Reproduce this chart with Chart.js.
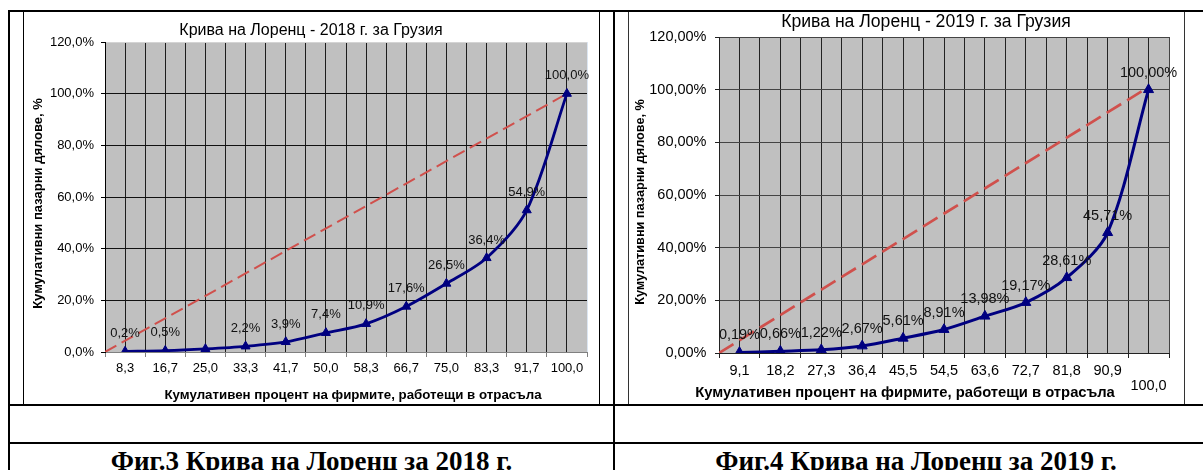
<!DOCTYPE html>
<html lang="bg">
<head>
<meta charset="utf-8">
<title>Крива на Лоренц</title>
<script src="https://cdn.jsdelivr.net/npm/chart.js@4.4.1/dist/chart.umd.min.js"></script>
<style>
  html, body { margin: 0; padding: 0; background: #fff; overflow: hidden; }
  body { position: relative; width: 1203px; height: 470px; }
  .rule { position: absolute; background: #000; }
  .frame { position: absolute; border: 1px solid #000; box-sizing: border-box; }
  canvas { position: absolute; }
  .caption {
    position: absolute; top: 446px; line-height: 27px;
    font: bold 27px "Liberation Serif", "Times New Roman", serif;
    text-align: center; color: #000; white-space: nowrap;
  }
</style>
</head>
<body>
  <div class="frame" style="left:23px; top:10px; width:577px; height:395px;"></div>
  <div class="frame" style="left:628px; top:10px; width:557px; height:395px; border-color:#333;"></div>
  <canvas id="chart2018" width="575" height="392" style="left:24px; top:12px;"></canvas>
  <canvas id="chart2019" width="555" height="392" style="left:629px; top:12px;"></canvas>

  <!-- table rules -->
  <div class="rule" style="left:8px; top:10px; width:1210px; height:2px;"></div>
  <div class="rule" style="left:8px; top:10px; width:2px; height:470px;"></div>
  <div class="rule" style="left:613px; top:10px; width:2px; height:470px;"></div>
  <div class="rule" style="left:8px; top:404px; width:1210px; height:2px;"></div>
  <div class="rule" style="left:8px; top:442px; width:1210px; height:2px;"></div>

  <div class="caption" style="left:10px; width:603px;">Фиг.3 Крива на Лоренц за 2018 г.</div>
  <div class="caption" style="left:615px; width:602px;">Фиг.4 Крива на Лоренц за 2019 г.</div>

<script>
// cumulative % of firms (category labels) and cumulative market shares, %
const cats2018 = ['8,3', '16,7', '25,0', '33,3', '41,7', '50,0', '58,3', '66,7', '75,0', '83,3', '91,7', '100,0'];
const share2018 = [0.2, 0.5, 1.2, 2.2, 3.9, 7.4, 10.9, 17.6, 26.5, 36.4, 54.9, 100.0];
const noLabel2018 = [2]; // the 25,0 point has no value label in the original

const cats2019 = ['9,1', '18,2', '27,3', '36,4', '45,5', '54,5', '63,6', '72,7', '81,8', '90,9', '100,0'];
const share2019 = [0.19, 0.66, 1.22, 2.67, 5.61, 8.91, 13.98, 19.17, 28.61, 45.71, 100.00];

const yTicks = [0, 20, 40, 60, 80, 100, 120];

// line of equality, [category position, share]; category i sits at i + 0.5
const equality2018 = [[0, 0], [11.5, 100]];
const equality2019 = [[0, 0], [10.5, 101]];

const FONT = '"Liberation Sans", Arial, sans-serif';
const NAVY = '#000080';
const DASH_RED = '#D0504C';

const fmt = (v, d) => v.toFixed(d).replace('.', ',') + '%';

// gray plot area like the Excel default
const plotBackground = {
  id: 'plotBackground',
  beforeDraw(chart) {
    const { ctx, chartArea: a } = chart;
    ctx.save();
    ctx.fillStyle = '#C0C0C0';
    ctx.fillRect(a.left, a.top, a.right - a.left, a.bottom - a.top);
    ctx.restore();
  }
};

// value labels above the markers
function pointLabels(font, decimals, offset, skip) {
  return {
    id: 'pointLabels',
    afterDatasetsDraw(chart) {
      const ctx = chart.ctx;
      const meta = chart.getDatasetMeta(0);
      const values = chart.data.datasets[0].data;
      ctx.save();
      ctx.font = font;
      ctx.fillStyle = '#111';
      ctx.textAlign = 'center';
      ctx.textBaseline = 'middle';
      meta.data.forEach((pt, i) => {
        if (skip.includes(i)) return;
        ctx.fillText(fmt(values[i].y, decimals), pt.x, pt.y - offset);
      });
      ctx.restore();
    }
  };
}

// chart title and axis titles (placed where Excel left them)
function frameText(items) {
  return {
    id: 'frameText',
    afterDraw(chart) {
      const ctx = chart.ctx;
      items.forEach(t => {
        ctx.save();
        ctx.font = t.font;
        ctx.fillStyle = '#000';
        ctx.textAlign = 'center';
        ctx.textBaseline = 'middle';
        ctx.translate(t.x, t.y);
        if (t.rotate) ctx.rotate(-Math.PI / 2);
        ctx.fillText(t.text, 0, 0);
        ctx.restore();
      });
    }
  };
}

function lorenzChart(id, s) {
  const n = s.cats.length;
  return new Chart(document.getElementById(id), {
    type: 'line',
    data: {
      datasets: [
        {
          data: s.values.map((v, i) => ({ x: i + 0.5, y: v })),
          borderColor: NAVY,
          backgroundColor: NAVY,
          borderWidth: s.lineWidth,
          tension: 0.3,
          pointStyle: 'triangle',
          pointRadius: s.marker,
          pointBorderWidth: 1,
          pointBorderColor: NAVY,
          pointBackgroundColor: NAVY
        },
        {
          data: s.equality.map(p => ({ x: p[0], y: p[1] })),
          borderColor: DASH_RED,
          borderWidth: s.dashWidth,
          borderDash: s.dash,
          pointRadius: 0,
          tension: 0
        }
      ]
    },
    options: {
      responsive: false,
      animation: false,
      devicePixelRatio: 1,
      layout: { padding: { top: s.top, right: s.right, left: 0, bottom: 0 } },
      plugins: {
        legend: { display: false },
        tooltip: { enabled: false },
        title: { display: false }
      },
      scales: {
        x: {
          type: 'linear',
          min: 0,
          max: n,
          afterBuildTicks: sc => {
            sc.ticks = [];
            for (let k = 0; k <= 2 * n; k++) sc.ticks.push({ value: k / 2 });
          },
          afterFit: sc => { sc.height = s.xHeight; },
          grid: {
            lineWidth: 1,
            tickLength: 5,
            color: c => (c.tick.value === n ? s.rightEdge : s.vGrid),
            tickColor: c => (Number.isInteger(c.tick.value) ? s.xAxis : 'rgba(0,0,0,0)')
          },
          border: { color: s.xAxis, width: 1 },
          ticks: {
            autoSkip: false,
            maxRotation: 0,
            minRotation: 0,
            padding: s.xPad,
            color: '#000',
            font: { family: FONT, size: s.tickSize, lineHeight: s.tickLine },
            callback: v => {
              const k = v - 0.5;
              if (!Number.isInteger(k)) return '';
              return (s.dropLast && k === n - 1) ? ['', s.cats[k]] : s.cats[k];
            }
          }
        },
        y: {
          min: 0,
          max: 120,
          afterBuildTicks: sc => { sc.ticks = yTicks.map(v => ({ value: v })); },
          afterFit: sc => { sc.width = s.yWidth; },
          grid: {
            lineWidth: 1,
            tickLength: 4,
            color: c => (c.tick.value === 0 ? s.xAxis : c.tick.value === 120 ? s.topEdge : s.hGrid),
            tickColor: s.yAxis
          },
          border: { color: s.yAxis, width: 1 },
          ticks: {
            padding: s.yPad,
            color: '#000',
            font: { family: FONT, size: s.tickSize },
            callback: v => fmt(v, s.yDecimals)
          }
        }
      }
    },
    plugins: [plotBackground, pointLabels(s.labelFont, s.yDecimals, s.labelOffset, s.skip), frameText(s.texts)]
  });
}

lorenzChart('chart2018', {
  cats: cats2018, values: share2018, equality: equality2018, skip: noLabel2018,
  yDecimals: 1, top: 30, right: 12, yWidth: 81, xHeight: 52,
  xPad: 3.5, yPad: 7, tickSize: 13, tickLine: 1.2,
  lineWidth: 2.8, marker: 5.2, dashWidth: 2, dash: [13, 6],
  vGrid: '#1c1c1c', hGrid: '#111', rightEdge: '#dbe5f1', topEdge: '#d4d4d4',
  xAxis: '#808080', yAxis: '#000',
  labelFont: '13px ' + FONT, labelOffset: 18,
  texts: [
    { text: 'Крива на Лоренц - 2018 г. за Грузия', x: 287, y: 19, font: '16px ' + FONT },
    { text: 'Кумулативни пазарни дялове, %', x: 14, y: 191.5, rotate: true, font: 'bold 13px ' + FONT },
    { text: 'Кумулативен процент на фирмите, работещи в отрасъла', x: 329, y: 383, font: 'bold 13.3px ' + FONT }
  ]
});

lorenzChart('chart2019', {
  cats: cats2019, values: share2019, equality: equality2019, skip: [], dropLast: true,
  yDecimals: 2, top: 25, right: 15, yWidth: 90, xHeight: 51,
  xPad: 5, yPad: 8.5, tickSize: 14.5, tickLine: 1.08,
  lineWidth: 3, marker: 5.8, dashWidth: 2.7, dash: [17, 7],
  vGrid: '#222', hGrid: '#444', rightEdge: '#444', topEdge: '#444',
  xAxis: '#222', yAxis: '#222',
  labelFont: '14.5px ' + FONT, labelOffset: 17,
  texts: [
    { text: 'Крива на Лоренц - 2019 г. за Грузия', x: 297, y: 10.5, font: '17.6px ' + FONT },
    { text: 'Кумулативни пазарни дялове, %', x: 11, y: 190, rotate: true, font: 'bold 12.7px ' + FONT },
    { text: 'Кумулативен процент на фирмите, работещи в отрасъла', x: 276, y: 381.3, font: 'bold 14.8px ' + FONT }
  ]
});
</script>
</body>
</html>
